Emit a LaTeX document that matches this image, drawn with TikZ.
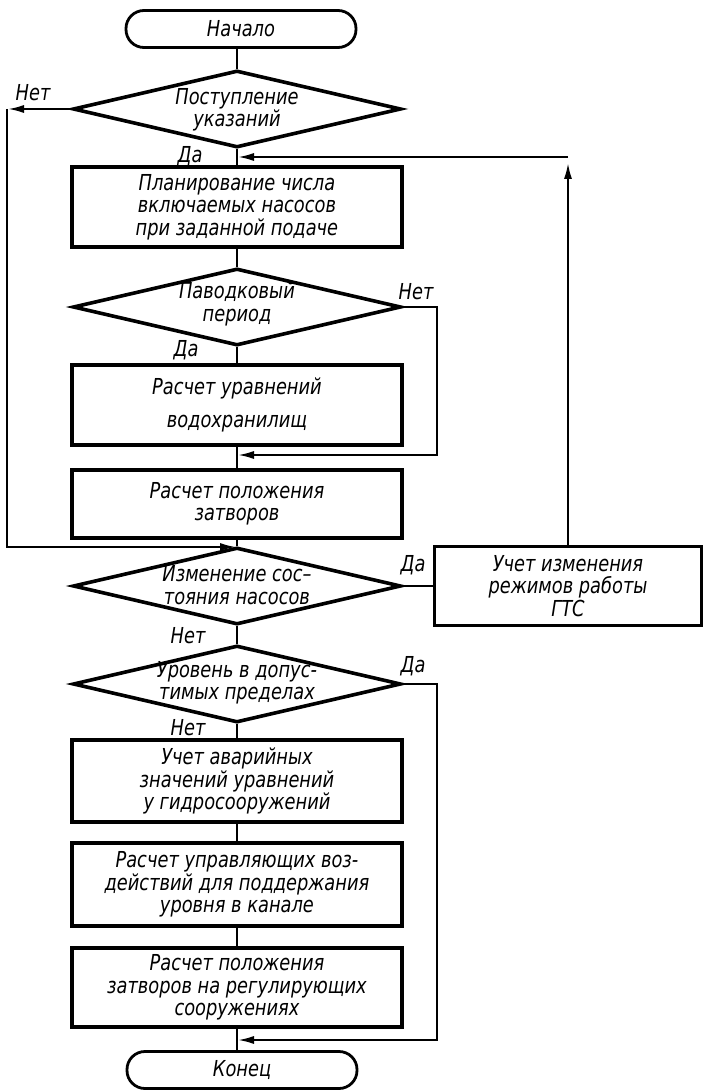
\documentclass[tikz,border=0pt]{standalone}
\usepackage{fontspec}
\setmainfont{DejaVu Sans Condensed}[FakeStretch=0.9]
\usetikzlibrary{shapes.geometric,arrows.meta}
\begin{document}
\begin{tikzpicture}[x=1pt,y=-1pt,
  every node/.style={font=\fontsize{22}{22.5}\selectfont\itshape, align=center, inner sep=0pt},
  term/.style={draw, rectangle, rounded corners=18pt, line width=2.8pt,
    minimum width=230pt, minimum height=37pt},
  proc/.style={draw, rectangle, line width=3.6pt, minimum width=330pt},
  decision/.style={draw, diamond, shape aspect=4.3, line width=3.6pt,
    minimum width=328pt, minimum height=77pt},
  conn/.style={line width=2.6pt},
  arr/.style={conn, -{Latex[length=17pt,width=8pt]}},
  lbl/.style={font=\fontsize{22}{22}\selectfont\itshape}
]
\useasboundingbox (0,0) rectangle (703,1091);

% main column
\node[term] (start) at (241,29) {Начало};
\node[decision] (d1) at (237,109) {};
\node (d1t) at (237,110) {Поступление\\указаний};
\node[proc, minimum height=80pt] (b1) at (237,207)
  {Планирование числа\\включаемых насосов\\при заданной подаче};
\node[decision] (d2) at (237,307) {};
\node (d2t) at (237,304) {Паводковый\\период};
\node[proc, minimum height=80pt, font=\fontsize{22}{33}\selectfont\itshape] (b2) at (237,405)
  {Расчет уравнений\\водохранилищ};
\node[proc, minimum height=68pt] (b3) at (237,504) {Расчет положения\\затворов};
\node[decision] (d3) at (237,586) {};
\node (d3t) at (237,585) {Изменение сос–\\тояния насосов};
\node[proc, minimum width=267pt, minimum height=79pt] (gts) at (568,586)
  {Учет изменения\\режимов работы\\ГТС};
\node[decision] (d4) at (237,684) {};
\node (d4t) at (237,683) {Уровень в допус-\\тимых пределах};
\node[proc, minimum height=82pt] (b4) at (237,781)
  {Учет аварийных\\значений уравнений\\у гидросооружений};
\node[proc, minimum height=83pt] (b5) at (237,884.5)
  {Расчет управляющих воз-\\действий для поддержания\\уровня в канале};
\node[proc, minimum height=79pt] (b6) at (237,987.5)
  {Расчет положения\\затворов на регулирующих\\сооружениях};
\node[term] (end) at (242,1070) {Конец};

% junction points
\coordinate (m1) at (237,157);
\coordinate (m2) at (237,455);
\coordinate (m3) at (237,547);
\coordinate (m4) at (237,1040);
\coordinate (L1) at (7,109);
\coordinate (L2) at (7,547);
\coordinate (R2a) at (437,307);
\coordinate (R2b) at (437,455);
\coordinate (T1) at (568,157);
\coordinate (R4a) at (437,684);
\coordinate (R4b) at (437,1040);

% straight flow
\draw[conn] (d1.north) -- (d1.north |- start.south);
\draw[conn] (d1.south) -- (b1.north);
\draw[conn] (b1.south) -- (d2.north);
\draw[conn] (d2.south) -- (b2.north);
\draw[conn] (b2.south) -- (b3.north);
\draw[conn] (b3.south) -- (d3.north);
\draw[conn] (d3.south) -- (d4.north);
\draw[conn] (d4.south) -- (b4.north);
\draw[conn] (b4.south) -- (b5.north);
\draw[conn] (b5.south) -- (b6.north);
\draw[conn] (b6.south) -- (b6.south |- end.north);
\draw[conn] (d3.east) -- (gts.west);

% loops
\draw[arr] (d1.west) -- (L1);
\draw[arr] (L1) -- (L2) -- (m3);
\draw[arr] (d2.east) -- (R2a) -- (R2b) -- (m2);
\draw[arr, shorten >=5pt] (gts.north) -- (T1);
\draw[arr] (T1) -- (m1);
\draw[arr] (d4.east) -- (R4a) -- (R4b) -- (m4);

% branch labels
\node[lbl] (n1) at (33,93) {Нет};
\node[lbl] (y1) at (190,156) {Да};
\node[lbl] (n2) at (416,292) {Нет};
\node[lbl] (y2) at (186,350) {Да};
\node[lbl] (y3) at (413,565) {Да};
\node[lbl] (n3) at (188,636) {Нет};
\node[lbl] (y4) at (413,666) {Да};
\node[lbl] (n4) at (188,728) {Нет};
\end{tikzpicture}
\end{document}
